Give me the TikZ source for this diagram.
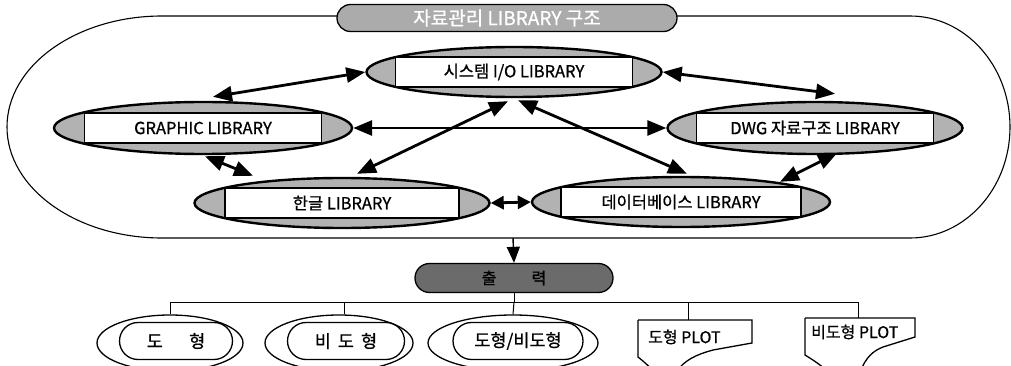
\documentclass[tikz,border=0pt]{standalone}
\usepackage{fontspec}
\setmainfont{Noto Sans CJK KR}
\newfontfamily\medfont{Noto Sans CJK KR}[FakeBold=0.8]
\usetikzlibrary{arrows.meta,shapes.geometric,shapes.misc,calc}
\begin{document}
\begin{tikzpicture}[x=1pt,y=-1pt,
  lib/.style={ellipse,draw,line width=2.4pt,fill=black!30,minimum width=295pt,minimum height=50pt,inner sep=0pt},
  librect/.style={rectangle,draw,line width=1.8pt,fill=white,minimum width=237pt,minimum height=30pt,inner sep=0pt,font=\medfont\fontsize{16.5}{18}\selectfont},
  dbl/.style={line width=2.8pt,{Triangle[length=19pt,width=15pt]}-{Triangle[length=19pt,width=15pt]}},
  dblshort/.style={line width=2.8pt,{Triangle[length=13pt,width=13pt]}-{Triangle[length=13pt,width=13pt]}},
  sgl/.style={line width=1.4pt,-{Triangle[length=16pt,width=13pt]}},
  tree/.style={line width=1pt},
  outell/.style={ellipse,draw,line width=1.3pt,inner sep=0pt,minimum height=56pt},
  inpill/.style={rounded rectangle,draw,line width=1.3pt,minimum height=37pt,inner sep=0pt,font=\medfont\fontsize{17.5}{19}\selectfont},
  pill/.style={rounded rectangle,draw,line width=1.3pt,inner sep=0pt},
  plottext/.style={anchor=west,inner sep=0pt,font=\medfont\fontsize{16}{18}\selectfont}
]
\clip (0,0) rectangle (1011,366);
\fill[white] (0,0) rectangle (1011,366);

% container
\draw[line width=1.1pt] (162,16) -- (910,16) arc[start angle=-90,end angle=90,x radius=100,y radius=111]
  -- (162,238) arc[start angle=90,end angle=270,x radius=155,y radius=111] -- cycle;
\coordinate (cb) at (513,238);

% title
\node[pill,fill=black!33,minimum width=340pt,minimum height=27pt,font=\medfont\fontsize{19}{21}\selectfont,text=white] (title) at (507,18) {자료관리 LIBRARY 구조};

% library nodes
\node[lib] (io) at (514,72) {};
\node[librect] (ioR) at (io.center) {시스템 I/O LIBRARY};
\node[lib,minimum width=298pt,minimum height=52pt] (graphic) at (203,128) {};
\node[librect] (graphicR) at (graphic.center) {GRAPHIC LIBRARY};
\node[lib,minimum height=52pt] (dwg) at (815,128) {};
\node[librect] (dwgR) at (dwg.center) {DWG 자료구조 LIBRARY};
\node[lib] (hangul) at (342,203) {};
\node[librect,minimum width=234pt] (hangulR) at (hangul.center) {한글 LIBRARY};
\node[lib,minimum width=298pt] (db) at (681,202) {};
\node[librect,minimum width=240pt] (dbR) at (db.center) {데이터베이스 LIBRARY};

% arrows
\draw[dbl] ([shift={(10,-4)}]graphic.north) -- (io.west);
\draw[dbl] (io.east) -- ([shift={(20,-7)}]dwg.north);
\draw[dbl] (graphic.east) -- (dwg.west);
\draw[dbl] ([shift={(2,1)}]graphic.south) -- ([shift={(-89,-1)}]hangul.north);
\draw[dbl] ([shift={(15,-3)}]hangul.north) -- ([shift={(-6,3)}]io.south);
\draw[dbl] ([shift={(6,-2)}]db.north) -- ([shift={(4,2)}]io.south);
\draw[dblshort] (hangul.east) -- (db.west);
\draw[dbl] ([shift={(22,-2)}]dwg.south) -- ([shift={(99,6)}]db.north);

% output
\node[pill,fill=black!58,minimum width=198pt,minimum height=29pt,font=\medfont\fontsize{16}{18}\selectfont,text=black] (out) at (514,278) {출\hspace{2.2em}력};
\draw[sgl] (cb) -- (out.north);

% bottom children
\node[outell,minimum width=146pt] (d1) at (170,343) {};
\node[inpill,minimum width=113pt] (d1R) at (176,341) {도\hspace{1.5em}형};
\node[outell,minimum width=148pt] (d2) at (339,343) {};
\node[inpill,minimum width=117pt] (d2R) at (346,341) {비\hspace{0.4em}도\hspace{0.4em}형};
\node[outell,minimum width=170pt] (d3) at (513,343) {};
\node[inpill,minimum width=130pt] (d3R) at (518,341) {도형/비도형};

% plot shapes
\draw[line width=1.3pt] (638,320) -- (752,320) -- (752,343) -- (713,350)
  .. controls (695,355) and (685,360) .. (676,372);
\draw[line width=1.3pt] (638,320) -- (638,357) .. controls (643,361) and (648,365) .. (654,372);
\node[plottext] (p1) at (648,337) {도형 PLOT};
\coordinate (p1t) at (688,320);
\draw[line width=1.3pt] (805,318) -- (915,318) -- (915,337) -- (883,347)
  .. controls (873,351) and (866,357) .. (860,372);
\draw[line width=1.3pt] (805,318) -- (805,355) .. controls (813,360) and (821,365) .. (828,372);
\node[plottext] (p2) at (811,332) {비도형 PLOT};
\coordinate (p2t) at (858,318);

% tree
\coordinate (bus) at (514,302);
\coordinate (busL) at (170,302);
\coordinate (busR) at (858,302);
\draw[tree] (out.south) -- (bus);
\draw[tree] (busL) -- (busR);
\draw[tree] (busL) -- (d1.north);
\draw[tree] (344,302) -- (d2.north -| 344,0);
\draw[tree] (bus) -- (d3.north);
\draw[tree] (688,302) -- (p1t);
\draw[tree] (busR) -- (p2t);
\end{tikzpicture}
\end{document}
